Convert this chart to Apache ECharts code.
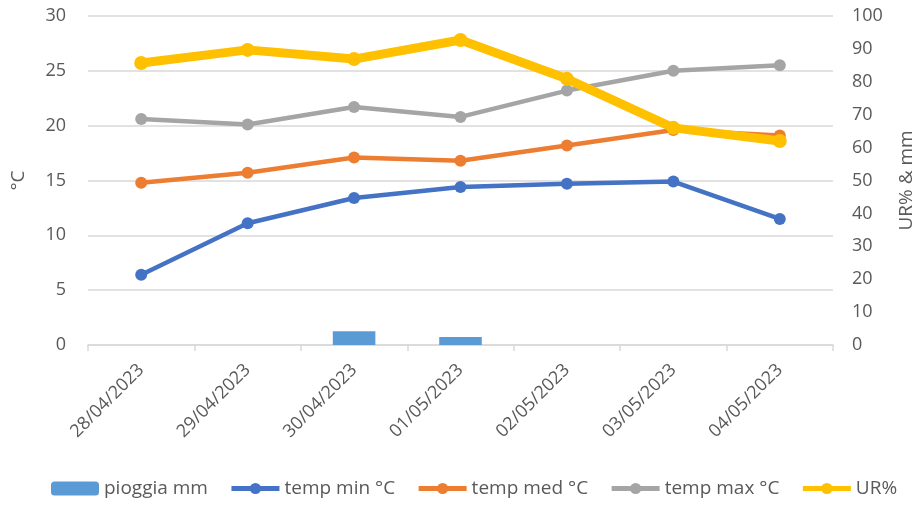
<!DOCTYPE html>
<html>
<head>
<meta charset="utf-8">
<script src="https://cdn.jsdelivr.net/npm/echarts@6/dist/echarts.min.js"></script>
<style>
  html, body { margin: 0; padding: 0; background: #fff; }
  #box1 { width: 919px; height: 506px; }
</style>
</head>
<body>
<div id="box1"></div>
<script>
const aDays = ['28/04/2023', '29/04/2023', '30/04/2023', '01/05/2023', '02/05/2023', '03/05/2023', '04/05/2023'];
const aRain = [0, 0, 4.2, 2.4, 0, 0, 0];
const aTempMin = [6.4, 11.1, 13.4, 14.4, 14.7, 14.9, 11.5];
const aTempMed = [14.8, 15.7, 17.1, 16.8, 18.2, 19.6, 19.1];
const aTempMax = [20.6, 20.1, 21.7, 20.8, 23.2, 25.0, 25.5];
const aUR = [85.7, 89.7, 86.9, 92.7, 80.9, 66.0, 62.0];

const sFont = '"Open Sans", "Liberation Sans", sans-serif';
const sText = '#595959';
const sGridLine = '#d9d9d9';

// ▼折线的公共部分
function lineSeries(name, data, color, width, size){
    return {
        name,
        type: 'line',
        yAxisIndex: name == 'UR%' ? 1 : 0,
        data,
        symbol: 'circle',
        symbolSize: size,
        lineStyle: { color, width },
        itemStyle: { color },
        z: name == 'UR%' ? 5 : 3,
    };
}

const myChart = echarts.init(document.getElementById('box1'));
const option = {
    animation: false,
    textStyle: { fontFamily: sFont },
    grid: { left: 88, right: 86, top: 16, bottom: 161, outerBoundsMode: 'none' },
    legend: {
        bottom: 3,
        left: 46,
        itemWidth: 48,
        itemHeight: 14,
        itemGap: 21,
        lineStyle: { width: 5 },
        textStyle: { color: sText, fontSize: 19, fontFamily: sFont },
        data: ['pioggia mm', 'temp min °C', 'temp med °C', 'temp max °C', 'UR%'],
    },
    xAxis: {
        type: 'category',
        data: aDays,
        boundaryGap: true,
        axisLine: { lineStyle: { color: sGridLine, width: 1.5 } },
        axisTick: { show: true, length: 6, lineStyle: { color: sGridLine, width: 1.5 } },
        axisLabel: { rotate: 45, color: sText, fontSize: 18, margin: 22, fontFamily: sFont },
    },
    yAxis: [{
        type: 'value',
        min: 0, max: 30, interval: 5,
        name: '°C',
        nameLocation: 'middle',
        nameGap: 60,
        nameRotate: 90,
        nameTextStyle: { color: sText, fontSize: 19, fontFamily: sFont },
        axisLine: { show: false },
        axisTick: { show: false },
        axisLabel: { color: sText, fontSize: 18, margin: 22, fontFamily: sFont },
        splitLine: { lineStyle: { color: sGridLine, width: 1.5 } },
    }, {
        type: 'value',
        min: 0, max: 100, interval: 10,
        name: 'UR% & mm',
        nameLocation: 'middle',
        nameGap: 64,
        nameRotate: 90,
        nameTextStyle: { color: sText, fontSize: 19, fontFamily: sFont },
        axisLine: { show: false },
        axisTick: { show: false },
        axisLabel: { color: sText, fontSize: 18, margin: 19, fontFamily: sFont },
        splitLine: { show: false },
    }],
    series: [
        {
            name: 'pioggia mm',
            type: 'bar',
            yAxisIndex: 1,
            data: aRain,
            barWidth: '40%',
            itemStyle: { color: '#5B9BD5' },
        },
        lineSeries('temp min °C', aTempMin, '#4472C4', 4.5, 12),
        lineSeries('temp med °C', aTempMed, '#ED7D31', 4.5, 12),
        lineSeries('temp max °C', aTempMax, '#A5A5A5', 4.5, 12),
        lineSeries('UR%', aUR, '#FFC000', 9, 14),
    ],
};
myChart.setOption(option);
</script>
</body>
</html>
